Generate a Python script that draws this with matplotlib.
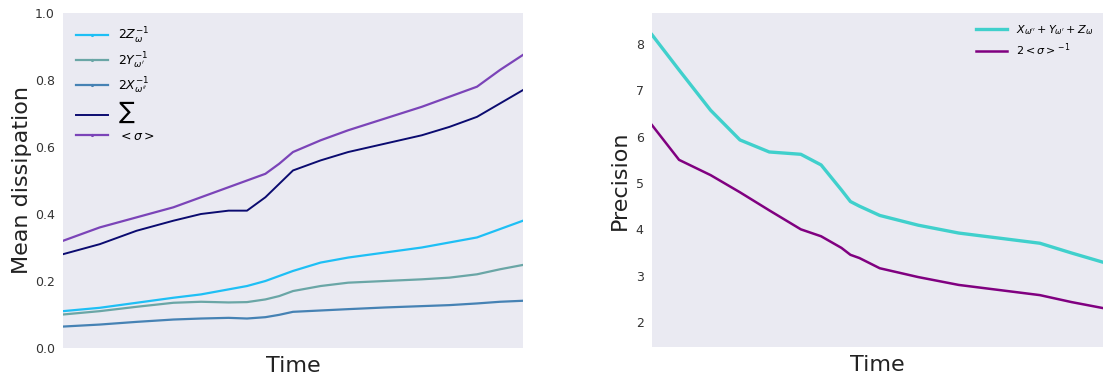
import matplotlib
matplotlib.use("Agg")
import matplotlib.pyplot as plt
from matplotlib.lines import Line2D

# Left panel data (normalized time 0..1)
t_left = [0.0, 0.08, 0.16, 0.24, 0.30, 0.36, 0.40, 0.44, 0.47, 0.50, 0.56, 0.62, 0.70, 0.78, 0.84, 0.90, 0.95, 1.0]
sigma_mean = [0.32, 0.36, 0.39, 0.42, 0.45, 0.48, 0.50, 0.52, 0.55, 0.585, 0.62, 0.65, 0.685, 0.72, 0.75, 0.78, 0.83, 0.875]
sum_vals   = [0.28, 0.31, 0.35, 0.38, 0.40, 0.41, 0.41, 0.45, 0.49, 0.53, 0.56, 0.585, 0.61, 0.635, 0.66, 0.69, 0.73, 0.77]
z_inv2     = [0.11, 0.12, 0.135, 0.15, 0.16, 0.175, 0.185, 0.20, 0.215, 0.23, 0.255, 0.27, 0.285, 0.30, 0.315, 0.33, 0.355, 0.38]
y_inv2     = [0.10, 0.11, 0.123, 0.135, 0.138, 0.136, 0.137, 0.145, 0.155, 0.17, 0.185, 0.195, 0.20, 0.205, 0.21, 0.22, 0.235, 0.248]
x_inv2     = [0.064, 0.07, 0.078, 0.085, 0.088, 0.090, 0.088, 0.092, 0.099, 0.108, 0.112, 0.116, 0.121, 0.125, 0.128, 0.133, 0.138, 0.141]

# Right panel data
t_right = [0.0, 0.06, 0.13, 0.195, 0.26, 0.33, 0.375, 0.42, 0.44, 0.46, 0.505, 0.59, 0.68, 0.77, 0.86, 0.93, 1.0]
prec_xyz   = [8.2, 7.44, 6.57, 5.93, 5.67, 5.62, 5.39, 4.85, 4.6, 4.5, 4.3, 4.09, 3.92, 3.81, 3.70, 3.49, 3.29]
prec_sigma = [6.25, 5.5, 5.17, 4.8, 4.41, 4.0, 3.85, 3.6, 3.45, 3.38, 3.16, 2.97, 2.80, 2.69, 2.58, 2.43, 2.3]

BG = "#EAEAF2"
fig = plt.figure(figsize=(11.03, 3.81), dpi=100)

ax1 = fig.add_axes([63/1103, 33/381, 460/1103, 335/381])
ax2 = fig.add_axes([652/1103, 34/381, 451/1103, 334/381])

for ax in (ax1, ax2):
    ax.set_facecolor(BG)
    for s in ax.spines.values():
        s.set_visible(False)
    ax.set_xticks([])
    ax.tick_params(axis='y', length=0, labelsize=9, colors="#333333", pad=6)
    ax.set_xlabel("Time", fontsize=16, color="#222222", labelpad=6)

left_series = [
    (z_inv2, "#1EBFF5", 1.6, '.', r"$2Z_{\omega}^{-1}$"),
    (y_inv2, "#6AA6A6", 1.6, '.', r"$2Y_{\omega'}^{-1}$"),
    (x_inv2, "#4682B4", 1.6, '.', r"$2X_{\omega''}^{-1}$"),
    (sum_vals, "#0B0B70", 1.4, None, r"$\sum$"),
    (sigma_mean, "#7B44B8", 1.6, '.', r"$<\sigma>$"),
]
handles = []
for vals, col, lw, mk, lab in left_series:
    ax1.plot(t_left, vals, color=col, lw=lw)
    handles.append(Line2D([], [], color=col, lw=lw, marker=mk if mk else '', ms=2.5, label=lab))

ax1.set_xlim(0, 1)
ax1.set_ylim(0, 1.0)
ax1.set_yticks([0.0, 0.2, 0.4, 0.6, 0.8, 1.0])
ax1.set_ylabel("Mean dissipation", fontsize=16, color="#222222", labelpad=2)
leg1 = ax1.legend(handles=handles, loc="upper left", frameon=False, fontsize=9, handlelength=2.6,
                  borderaxespad=0.6, labelspacing=0.35)
for txt in leg1.get_texts():
    if txt.get_text() == r"$\sum$":
        txt.set_fontsize(12)

ax2.plot(t_right, prec_xyz, color="#40D0CC", lw=2.4, label=r"$X_{\omega''}+Y_{\omega'}+Z_{\omega}$")
ax2.plot(t_right, prec_sigma, color="#800080", lw=1.8, label=r"$2<\sigma>^{-1}$")
ax2.set_xlim(0, 1)
ax2.set_ylim(1.46, 8.67)
ax2.set_yticks([2, 3, 4, 5, 6, 7, 8])
ax2.set_ylabel("Precision", fontsize=16, color="#222222", labelpad=4)
ax2.legend(loc="upper right", frameon=False, fontsize=8, handlelength=2.8, borderaxespad=0.5,
           labelspacing=0.4)

fig.savefig("out.png", dpi=100, facecolor="white")
